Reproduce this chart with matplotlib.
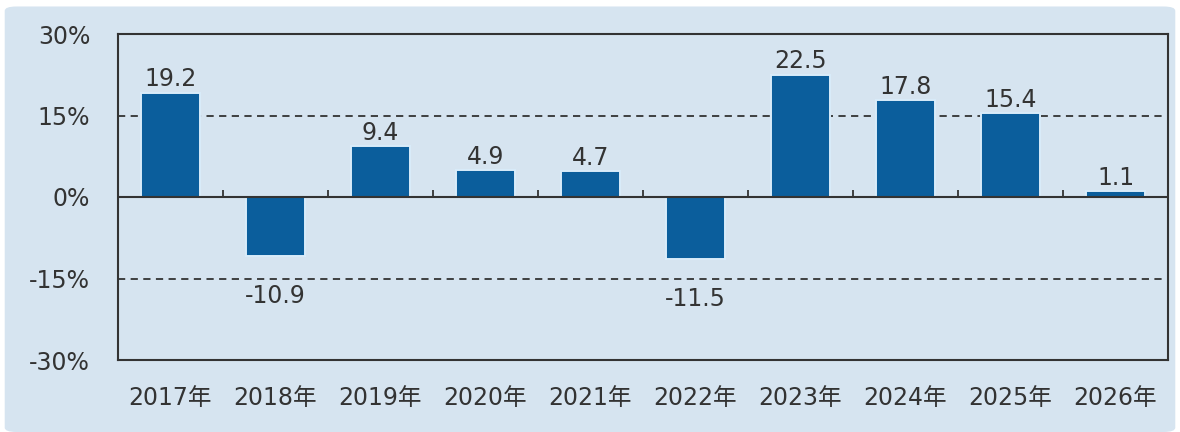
import numpy as np
import matplotlib.pyplot as plt
from matplotlib.patches import FancyBboxPatch

# データ
years = ['2017年', '2018年', '2019年', '2020年', '2021年',
         '2022年', '2023年', '2024年', '2025年', '2026年']
growth = [19.2, -10.9, 9.4, 4.9, 4.7, -11.5, 22.5, 17.8, 15.4, 1.1]
yticks = [-30, -15, 0, 15, 30]

plt.rcParams['font.family'] = ['DejaVu Sans', 'Noto Sans CJK JP']
bg = '#d6e4f0'
txt = '#333333'
fs = 17

fig = plt.figure(figsize=(11.8, 4.32), dpi=100, facecolor='white')
fig.patches.append(FancyBboxPatch((0.004, 0.0), 0.992, 0.985,
                                  boxstyle='round,pad=0,rounding_size=0.01',
                                  transform=fig.transFigure, facecolor=bg,
                                  edgecolor='none', zorder=-5))
ax = fig.add_axes([118 / 1180, 1 - 360 / 432, 1050 / 1180, 326 / 432])
ax.set_facecolor(bg)

x = np.arange(len(years))
ax.bar(x, growth, width=0.56, color='#0b5e9c', edgecolor='#d9ecfa',
       linewidth=1.4, zorder=3)

# 数値ラベル
for xi, v in zip(x, growth):
    if v >= 0:
        ax.annotate(f'{v:.1f}', (xi, v), xytext=(0, 1), textcoords='offset points',
                    ha='center', va='bottom', fontsize=fs, color=txt)
    else:
        ax.annotate(f'{v:.1f}', (xi, v), xytext=(0, -20), textcoords='offset points',
                    ha='center', va='top', fontsize=fs, color=txt)

# 補助線
ax.axhline(0, color='#333333', lw=1.5, zorder=4)
for yv in (15, -15):
    ax.axhline(yv, color='#333333', lw=1.3, ls=(0, (4, 3)), zorder=2)
bounds = x[:-1] + 0.5
ax.vlines(bounds, 0, 1.3, color='#333333', lw=1.3, zorder=4)

ax.set_xlim(-0.5, len(years) - 0.5)
ax.set_ylim(-30, 30)
ax.set_yticks(yticks)
ax.set_yticklabels([f'{t}%' for t in yticks])
ax.set_xticks(x)
ax.set_xticklabels(years)
ax.tick_params(axis='both', length=0, labelsize=fs, labelcolor=txt)
ax.tick_params(axis='y', pad=20)
ax.tick_params(axis='x', pad=19)
for s in ax.spines.values():
    s.set_color('#333333')
    s.set_linewidth(1.5)

fig.savefig('out.png', dpi=100, facecolor='white')
